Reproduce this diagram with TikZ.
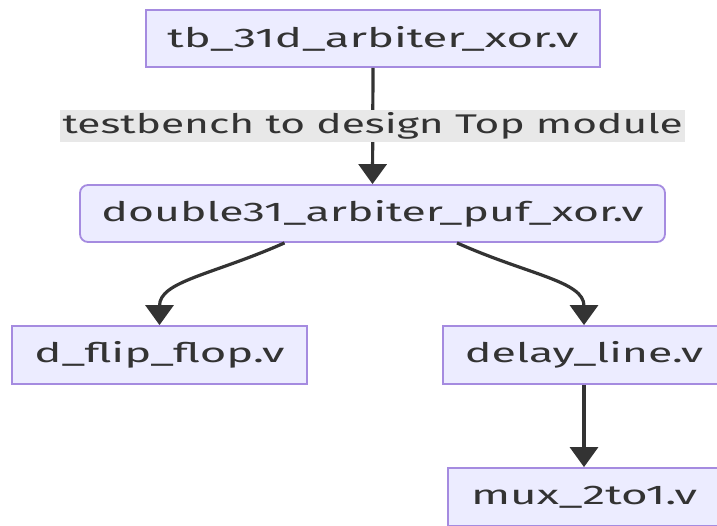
\documentclass[tikz,border=0pt]{standalone}
\usepackage{fontspec}
\setmainfont{Fira Sans}
\usepackage{graphicx}
\usetikzlibrary{arrows.meta,calc}
\definecolor{boxfill}{HTML}{ECECFF}
\definecolor{boxline}{HTML}{A58BE0}
\definecolor{ink}{HTML}{333333}
\definecolor{lblbg}{HTML}{E8E8E8}
\newcommand\wtext[2]{\resizebox{#1pt}{\height}{#2}}
\tikzset{
  modbox/.style={draw=boxline, line width=1.8pt, fill=boxfill, inner sep=0pt,
    text=ink, font=\fontsize{27}{31}\selectfont, minimum height=57pt},
  topmod/.style={modbox, rounded corners=8pt},
  edgelbl/.style={fill=lblbg, inner sep=0pt, text=ink, minimum height=32pt,
    font=\fontsize{27}{31}\selectfont},
  conn/.style={draw=ink, line width=3.2pt, -{Triangle[width=28pt,length=20pt]}},
}
\begin{document}
\begin{tikzpicture}[x=1pt,y=-1pt]
\useasboundingbox (0,0) rectangle (717,525);
\clip (0,0) rectangle (717,525);
\node[modbox, minimum width=454pt] (tb) at (373,38.5) {\wtext{411}{tb\_31d\_arbiter\_xor.v}};
\node[topmod, minimum width=585pt] (top) at (372.5,213.5) {\wtext{542}{double31\_arbiter\_puf\_xor.v}};
\node[modbox, minimum width=295pt, minimum height=58pt] (dff) at (159.5,355) {\wtext{250}{d\_flip\_flop.v}};
\node[modbox, minimum width=282pt, minimum height=58pt] (dly) at (584,355) {\wtext{238}{delay\_line.v}};
\node[modbox, minimum width=272pt, minimum height=58pt] (mux) at (584,497) {\wtext{226}{mux\_2to1.v}};
\draw[conn] (tb.south) -- node[edgelbl, minimum width=625pt] (lbl) {\wtext{620}{testbench to design Top module}} (top.north);
\draw[conn] ([xshift=-88pt]top.south) .. controls ([xshift=-160pt,yshift=-32pt]top.south) and ([yshift=44pt]dff.north) .. (dff.north);
\draw[conn] ([xshift=84.5pt]top.south) .. controls ([xshift=156pt,yshift=-32pt]top.south) and ([yshift=44pt]dly.north) .. (dly.north);
\draw[conn] (dly.south) -- (mux.north);
\end{tikzpicture}
\end{document}
